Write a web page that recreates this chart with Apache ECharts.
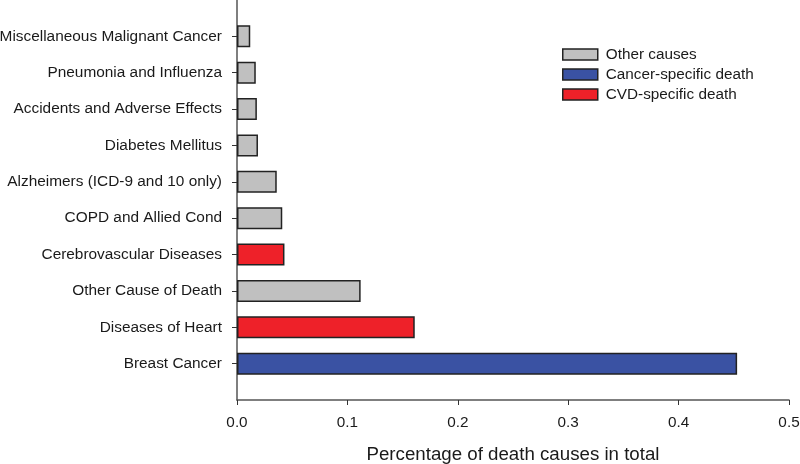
<!DOCTYPE html>
<html>
<head>
<meta charset="utf-8">
<script src="https://cdn.jsdelivr.net/npm/echarts@6/dist/echarts.min.js"></script>
<style>
html, body { margin: 0; padding: 0; background: #fff; }
#chart { width: 800px; height: 464px; }
</style>
</head>
<body>
<div id="chart"></div>
<script>
// bottom to top, as in the figure
var causes = ['Breast Cancer', 'Diseases of Heart', 'Other Cause of Death', 'Cerebrovascular Diseases',
    'COPD and Allied Cond', 'Alzheimers (ICD-9 and 10 only)', 'Diabetes Mellitus',
    'Accidents and Adverse Effects', 'Pneumonia and Influenza', 'Miscellaneous Malignant Cancer'];
var shares = [0.453, 0.161, 0.112, 0.043, 0.041, 0.036, 0.019, 0.018, 0.017, 0.012];
var groups = ['cancer', 'cvd', 'other', 'cvd', 'other', 'other', 'other', 'other', 'other', 'other'];
var groupNames = { other: 'Other causes', cancer: 'Cancer-specific death', cvd: 'CVD-specific death' };
var groupColors = { other: '#c0c0c0', cancer: '#3a52a3', cvd: '#ee2129' };
var xTicks = [0, 0.1, 0.2, 0.3, 0.4, 0.5];

// empty slots at both ends so the axis line runs past the first and last bar
var yCats = [''].concat(causes, ['']);

var series = ['other', 'cancer', 'cvd'].map(function (g) {
    var data = ['-'];
    shares.forEach(function (v, i) { data.push(groups[i] === g ? v : '-'); });
    data.push('-');
    return {
        name: groupNames[g],
        type: 'bar',
        data: data,
        barWidth: 22,
        barGap: '-100%',
        itemStyle: { color: groupColors[g], borderColor: '#222', borderWidth: 1.5 }
    };
});

var myChart = echarts.init(document.getElementById('chart'));
myChart.setOption({
    animation: false,
    textStyle: { fontFamily: 'Liberation Sans, Arial, sans-serif' },
    grid: { left: 237, right: 11, top: 0, bottom: 64, containLabel: false, outerBoundsMode: 'none' },
    legend: {
        orient: 'vertical',
        left: 557,
        top: 42,
        itemWidth: 35,
        itemHeight: 11,
        itemGap: 5,
        icon: 'rect',
        selectedMode: false,
        data: ['Other causes', 'Cancer-specific death', 'CVD-specific death'],
        textStyle: { fontSize: 15.3, color: '#1a1a1a', padding: [0, 0, 0, 3] },
        itemStyle: { borderColor: '#222', borderWidth: 1.5 }
    },
    xAxis: {
        type: 'value',
        min: xTicks[0],
        max: xTicks[xTicks.length - 1],
        interval: 0.1,
        name: 'Percentage of death causes in total',
        nameLocation: 'middle',
        nameGap: 45,
        nameTextStyle: { fontSize: 18.7, color: '#1a1a1a' },
        axisLine: { show: true, lineStyle: { color: '#555', width: 1.5 } },
        axisTick: { show: true, length: 5, lineStyle: { color: '#333' } },
        axisLabel: {
            fontSize: 15.3, color: '#1a1a1a', margin: 15,
            formatter: function (v) { return v.toFixed(1); }
        },
        splitLine: { show: false }
    },
    yAxis: {
        type: 'category',
        data: yCats,
        boundaryGap: false,
        axisLine: { show: true, lineStyle: { color: '#555', width: 1.5 } },
        axisTick: {
            show: true, length: 5, lineStyle: { color: '#333' },
            interval: function (i, v) { return v !== ''; }
        },
        axisLabel: { fontSize: 15.4, color: '#1a1a1a', margin: 15, interval: 0 }
    },
    series: series
});
</script>
</body>
</html>
